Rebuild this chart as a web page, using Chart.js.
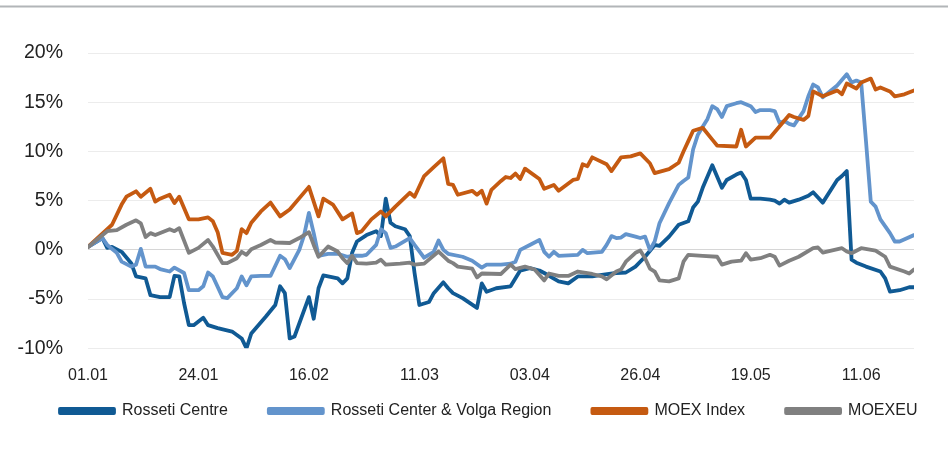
<!DOCTYPE html>
<html>
<head>
<meta charset="utf-8">
<script src="https://cdn.jsdelivr.net/npm/chart.js@4.4.1/dist/chart.umd.min.js"></script>
<style>
html,body{margin:0;padding:0;background:#fff;}
#wrap{width:948px;height:468px;position:relative;}
</style>
</head>
<body>
<div id="wrap"><canvas id="c" width="948" height="468"></canvas></div>
<script>
// ---- tick labels ----
const xTickDays = [0, 23, 46, 69, 92, 115, 138, 161];
const xTickLabels = ['01.01', '24.01', '16.02', '11.03', '03.04', '26.04', '19.05', '11.06'];
const xStep = 23;
const yMin = -10, yMax = 20, yStep = 5;
const lastDay = 172;

// ---- series names ----
const seriesNames = ['Rosseti Centre', 'Rosseti Center & Volga Region', 'MOEX Index', 'MOEXEU'];

// ---- series values: [day since 01.01, % change] ----
const rossetiCentre = [[0,0.3],[3,1.2],[4,0.2],[5,0.3],[7,-0.2],[9,-1.35],[10,-2.7],[12,-2.9],[13,-4.6],[15,-4.8],[17,-4.8],[18,-2.65],[19,-2.7],[20,-5.4],[21,-7.65],[22,-7.65],[24,-6.9],[25,-7.65],[27,-7.95],[30,-8.3],[32,-9.0],[33,-10.0],[34,-8.5],[37,-6.8],[39,-5.6],[40,-3.7],[41,-4.4],[42,-9.0],[43,-8.8],[46,-4.8],[47,-7.0],[48,-3.9],[49,-2.6],[52,-2.9],[53,-3.4],[54,-2.9],[55,-0.3],[56,0.85],[58,1.5],[60,1.9],[61,1.4],[62,5.2],[63,2.75],[64,2.4],[66,2.1],[67,1.4],[68,-2.35],[69,-5.6],[71,-5.3],[72,-4.4],[74,-3.3],[75,-3.9],[76,-4.4],[78,-4.9],[81,-5.9],[82,-3.4],[83,-4.25],[85,-3.9],[88,-3.7],[90,-2.1],[92,-1.85],[94,-2.1],[95,-2.35],[98,-3.2],[100,-3.4],[102,-2.7],[105,-2.7],[107,-2.55],[110,-2.35],[112,-2.3],[114,-1.7],[116,-0.7],[118,0.5],[119,0.4],[121,1.35],[123,2.55],[125,2.9],[126,4.3],[127,4.9],[128,6.3],[130,8.6],[132,6.3],[133,7.1],[135,7.65],[136,7.85],[137,7.1],[138,5.2],[140,5.2],[142,5.1],[143,5.0],[144,4.7],[145,5.1],[146,4.8],[148,5.1],[150,5.5],[151,5.85],[153,4.8],[156,7.1],[157,7.5],[158,8.0],[159,-1.0],[160,-1.3],[162,-1.7],[165,-2.2],[166,-2.9],[167,-4.25],[169,-4.1],[171,-3.8],[172,-3.8]];

const rossetiVolga = [[0,0.3],[3,1.2],[4,0.5],[6,-0.3],[7,-1.2],[9,-1.7],[10,-1.5],[11,0.1],[12,-1.7],[14,-1.7],[15,-1.95],[17,-2.2],[18,-1.8],[20,-2.35],[21,-4.1],[23,-4.1],[24,-3.7],[25,-2.3],[26,-2.7],[28,-4.8],[29,-4.9],[31,-3.9],[32,-2.7],[33,-3.6],[34,-2.7],[36,-2.65],[38,-2.65],[40,-0.6],[41,-0.95],[42,-1.85],[44,0],[45,1.5],[46,3.75],[47,1.7],[48,-0.6],[50,-0.4],[52,-0.4],[54,-0.7],[55,-0.6],[57,-0.6],[58,-0.5],[60,0.5],[61,2.1],[62,1.7],[63,0.2],[64,0.34],[67,1.2],[68,0.5],[70,-0.8],[72,-0.2],[73,0.95],[74,0],[75,-0.4],[78,-0.7],[80,-1.1],[82,-1.8],[83,-1.5],[86,-1.5],[88,-1.4],[89,-1.2],[90,0],[92,0.5],[94,1.0],[95,-0.2],[96,-0.7],[97,-0.2],[98,-0.6],[102,-0.5],[103,0],[104,-0.34],[107,-0.2],[108,0.5],[109,1.4],[110,1.2],[111,1.25],[112,1.6],[114,1.35],[115,1.2],[116,1.35],[117,0],[118,0.85],[119,2.7],[121,4.75],[123,6.6],[124,7.0],[125,7.35],[126,10.2],[127,11.7],[128,12.5],[129,13.3],[130,14.6],[131,14.3],[132,13.5],[133,14.6],[135,14.9],[136,15.0],[137,14.8],[138,14.6],[139,14.0],[140,14.2],[142,14.2],[143,14.1],[144,12.9],[145,13.1],[146,12.8],[147,12.65],[149,14.1],[150,15.6],[151,16.8],[152,16.5],[153,15.5],[156,16.7],[158,17.85],[159,17.0],[160,17.2],[161,17.0],[162,11.05],[163,4.9],[164,4.4],[165,3.1],[167,1.7],[168,0.85],[169,0.85],[172,1.5]];

const moexIndex = [[0,0.3],[4,2.1],[5,2.55],[7,4.6],[8,5.4],[10,5.95],[11,5.4],[13,6.2],[14,4.9],[15,5.2],[17,5.6],[18,4.75],[19,5.4],[21,3.1],[23,3.1],[25,3.3],[26,2.9],[27,1.8],[28,-0.3],[30,-0.5],[31,-0.1],[32,2.1],[33,1.7],[34,2.75],[36,3.9],[38,4.8],[40,3.4],[42,4.1],[46,6.4],[48,3.4],[49,5.2],[51,4.6],[53,3.1],[55,3.7],[56,1.7],[57,1.9],[59,3.1],[61,3.9],[62,3.4],[64,4.4],[67,5.8],[68,5.4],[70,7.5],[72,8.4],[74,9.3],[75,6.7],[76,6.6],[77,5.6],[80,6.0],[81,5.6],[82,6.0],[83,4.7],[84,6.1],[86,7.0],[87,7.4],[88,7.3],[89,7.75],[90,7.2],[91,8.25],[94,7.2],[95,6.2],[97,6.6],[98,6.0],[101,7.1],[102,7.2],[103,8.7],[104,8.5],[105,9.4],[108,8.7],[109,8.0],[111,9.4],[113,9.5],[115,9.8],[117,8.8],[118,7.8],[121,8.2],[123,8.85],[124,10.0],[125,11.05],[126,12.1],[128,12.4],[130,11.2],[131,10.6],[135,10.5],[136,12.2],[137,10.5],[139,11.4],[142,11.4],[146,13.7],[147,13.5],[149,13.2],[150,13.6],[151,16.1],[153,15.6],[156,16.2],[157,15.8],[158,16.9],[160,16.4],[161,17.0],[163,17.4],[164,16.3],[165,16.5],[167,16.1],[168,15.6],[170,15.8],[172,16.2]];

const moexEU = [[0,0.3],[4,1.9],[6,2.0],[8,2.55],[10,3.0],[11,2.7],[12,1.3],[13,1.7],[14,1.5],[17,2.1],[18,1.9],[19,2.2],[21,-0.3],[23,0.2],[25,1.0],[26,0.34],[28,-1.35],[29,-1.35],[31,-0.85],[32,-0.2],[33,-0.5],[34,0.07],[36,0.5],[38,1.0],[39,0.75],[42,0.7],[44,1.2],[46,1.8],[47,0.5],[48,-0.7],[50,0.34],[52,-0.17],[53,-0.85],[54,-1.35],[55,-0.6],[56,-1.35],[58,-1.4],[60,-1.3],[61,-1.0],[62,-1.5],[65,-1.4],[67,-1.3],[68,-1.5],[70,-1.4],[73,-0.17],[75,-1.1],[76,-1.35],[77,-1.7],[80,-1.9],[81,-2.8],[82,-2.4],[86,-2.45],[88,-1.5],[89,-1.95],[91,-1.7],[93,-2.0],[95,-3.1],[96,-2.4],[98,-2.65],[100,-2.65],[102,-2.2],[105,-2.45],[107,-2.7],[108,-3.0],[110,-2.2],[111,-2.0],[112,-1.2],[114,-0.3],[115,-0.07],[116,-0.85],[117,-1.9],[118,-2.2],[119,-3.1],[121,-3.2],[123,-2.9],[124,-1.2],[125,-0.5],[128,-0.6],[131,-0.7],[132,-1.5],[134,-1.2],[136,-1.1],[137,-0.34],[138,-1.0],[140,-0.85],[142,-0.5],[143,-0.7],[144,-1.6],[146,-1.1],[148,-0.7],[151,0.17],[152,0.24],[153,-0.27],[157,0.17],[158,-0.17],[159,-0.34],[161,0.17],[164,-0.07],[166,-0.7],[167,-1.7],[170,-2.2],[171,-2.4],[172,-2.0]];

const seriesData = [rossetiCentre, rossetiVolga, moexIndex, moexEU];
const seriesColors = ['#105a94', '#6394cc', '#c55a11', '#808080'];
const drawOrder = [4, 3, 2, 1];

const FONT = '"Liberation Sans", Arial, sans-serif';
Chart.defaults.font.family = FONT;
Chart.defaults.color = '#222';

const topRule = {
  id: 'topRule',
  beforeDraw(chart) {
    const c = chart.ctx;
    c.save();
    c.fillStyle = '#b2b5b8';
    c.fillRect(0, 5.5, chart.width, 2);
    c.restore();
  }
};

// move the legend row to where the original places it
const legendShift = {
  id: 'legendShift',
  afterLayout(chart) {
    const lg = chart.legend;
    if (lg) {
      lg.left += 19; lg.right += 19;
      lg.top -= 24.3; lg.bottom -= 24.3;
    }
  }
};

const datasets = seriesNames.map((name, i) => ({
  label: name,
  data: seriesData[i].map(p => ({x: p[0], y: p[1]})),
  borderColor: seriesColors[i],
  backgroundColor: seriesColors[i],
  borderWidth: 3.8,
  pointRadius: 0,
  tension: 0,
  borderJoinStyle: 'round',
  borderCapStyle: 'round',
  order: drawOrder[i]
}));

new Chart(document.getElementById('c'), {
  type: 'line',
  data: { datasets },
  plugins: [topRule, legendShift],
  options: {
    responsive: false,
    animation: false,
    devicePixelRatio: 1,
    layout: { padding: { left: 0, right: 0, top: 53, bottom: 14.7 } },
    plugins: {
      tooltip: { enabled: false },
      legend: {
        position: 'bottom',
        align: 'start',
        labels: {
          boxWidth: 54,
          boxHeight: 4,
          padding: 41,
          font: { size: 16 },
          color: '#222',
          sort: (a, b) => a.datasetIndex - b.datasetIndex
        }
      }
    },
    scales: {
      x: {
        type: 'linear',
        min: 0,
        max: lastDay,
        grid: { display: false, drawTicks: false },
        border: { display: false },
        afterFit: s => { s.height = 38; },
        ticks: {
          stepSize: xStep,
          includeBounds: false,
          padding: 18,
          maxRotation: 0,
          autoSkip: false,
          font: { size: 16 },
          color: '#222',
          callback: v => { const i = xTickDays.indexOf(v); return i >= 0 ? xTickLabels[i] : ''; }
        }
      },
      y: {
        min: yMin,
        max: yMax,
        afterFit: s => { s.width = 88; },
        grid: {
          drawTicks: false,
          lineWidth: 1,
          color: c => (c.tick && c.tick.value === 0) ? '#d6d6d6' : '#ececec'
        },
        border: { display: false },
        ticks: {
          stepSize: yStep,
          padding: 25,
          font: { size: 19.5 },
          color: '#222',
          callback: v => v + '%'
        }
      },
      yRight: {
        position: 'right',
        afterFit: s => { s.width = 34; },
        grid: { display: false, drawTicks: false },
        border: { display: false },
        ticks: { display: false }
      }
    }
  }
});
</script>
</body>
</html>
